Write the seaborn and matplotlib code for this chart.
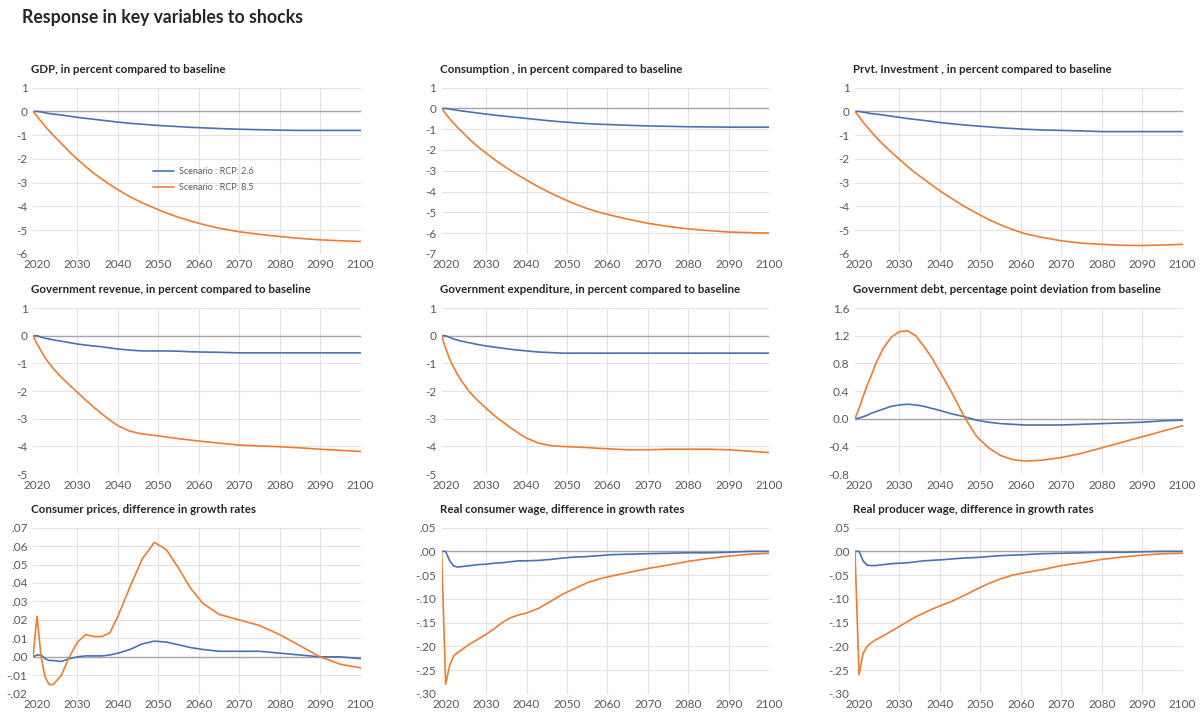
import numpy as np
import pandas as pd
import matplotlib
matplotlib.use("Agg")
import matplotlib.pyplot as plt
import seaborn as sns
from matplotlib.ticker import FuncFormatter

years = [2019, 2020, 2021, 2022, 2023, 2024, 2026, 2028, 2030, 2032, 2034, 2036, 2038, 2040,
         2043, 2046, 2049, 2052, 2055, 2058, 2061, 2065, 2070, 2075, 2080, 2085, 2090, 2095, 2100]

scenarios = ["Scenario : RCP: 2.6", "Scenario : RCP: 8.5"]

titles = [
    "GDP, in percent compared to baseline",
    "Consumption , in percent compared to baseline",
    "Prvt. Investment , in percent compared to baseline",
    "Government revenue, in percent compared to baseline",
    "Government expenditure, in percent compared to baseline",
    "Government debt, percentage point deviation from baseline",
    "Consumer prices, difference in growth rates",
    "Real consumer wage, difference in growth rates",
    "Real producer wage, difference in growth rates",
]

gdp_26 = [0, 0, -0.02, -0.06, -0.09, -0.11, -0.15, -0.2, -0.25, -0.29, -0.33, -0.37, -0.41, -0.45,
          -0.5, -0.54, -0.58, -0.61, -0.64, -0.67, -0.69, -0.72, -0.75, -0.77, -0.79, -0.8, -0.8, -0.8, -0.8]
gdp_85 = [0, -0.2, -0.42, -0.62, -0.82, -1.0, -1.35, -1.7, -2.02, -2.32, -2.6, -2.85, -3.08, -3.3,
          -3.6, -3.85, -4.07, -4.28, -4.46, -4.62, -4.76, -4.92, -5.07, -5.18, -5.27, -5.35, -5.41, -5.45, -5.48]

cons_26 = [0, 0, -0.03, -0.06, -0.09, -0.12, -0.17, -0.22, -0.27, -0.32, -0.36, -0.4, -0.44, -0.48,
           -0.54, -0.6, -0.65, -0.69, -0.73, -0.76, -0.78, -0.81, -0.84, -0.86, -0.88, -0.89, -0.9, -0.9, -0.9]
cons_85 = [0, -0.25, -0.5, -0.72, -0.93, -1.12, -1.5, -1.85, -2.15, -2.45, -2.72, -2.98, -3.22, -3.45,
           -3.78, -4.08, -4.35, -4.6, -4.82, -5.0, -5.15, -5.33, -5.53, -5.68, -5.8, -5.88, -5.95, -5.98, -6.0]

inv_26 = [0, 0, -0.03, -0.06, -0.09, -0.11, -0.15, -0.2, -0.25, -0.3, -0.34, -0.38, -0.42, -0.47,
          -0.52, -0.57, -0.61, -0.65, -0.69, -0.72, -0.75, -0.78, -0.8, -0.82, -0.85, -0.85, -0.85, -0.85, -0.85]
inv_85 = [0, -0.22, -0.45, -0.65, -0.85, -1.05, -1.4, -1.72, -2.02, -2.32, -2.6, -2.85, -3.1, -3.35,
          -3.68, -4.0, -4.28, -4.55, -4.78, -4.98, -5.15, -5.3, -5.45, -5.55, -5.6, -5.64, -5.65, -5.63, -5.6]

rev_26 = [0, 0, -0.05, -0.09, -0.12, -0.15, -0.2, -0.25, -0.3, -0.34, -0.37, -0.4, -0.44, -0.48,
          -0.52, -0.55, -0.55, -0.55, -0.56, -0.58, -0.59, -0.6, -0.62, -0.62, -0.62, -0.62, -0.62, -0.62, -0.62]
rev_85 = [0, -0.3, -0.55, -0.8, -1.0, -1.18, -1.5, -1.78, -2.05, -2.32, -2.58, -2.82, -3.05, -3.25,
          -3.45, -3.55, -3.6, -3.66, -3.72, -3.77, -3.82, -3.88, -3.95, -3.98, -4.01, -4.05, -4.1, -4.14, -4.18]

exp_26 = [0, 0, -0.06, -0.12, -0.16, -0.2, -0.26, -0.32, -0.37, -0.41, -0.45, -0.49, -0.52, -0.55,
          -0.59, -0.61, -0.63, -0.63, -0.63, -0.63, -0.63, -0.63, -0.63, -0.63, -0.63, -0.63, -0.63, -0.63, -0.63]
exp_85 = [0, -0.45, -0.85, -1.15, -1.42, -1.65, -2.05, -2.35, -2.62, -2.88, -3.1, -3.32, -3.52, -3.7,
          -3.88, -3.97, -4.0, -4.02, -4.04, -4.07, -4.09, -4.12, -4.12, -4.1, -4.1, -4.1, -4.12, -4.17, -4.22]

debt_26 = [0, 0.01, 0.03, 0.05, 0.08, 0.1, 0.14, 0.18, 0.2, 0.21, 0.2, 0.18, 0.15, 0.12,
           0.07, 0.03, -0.02, -0.05, -0.07, -0.08, -0.09, -0.09, -0.09, -0.08, -0.07, -0.06, -0.05, -0.03, -0.02]
debt_85 = [0, 0.15, 0.32, 0.48, 0.62, 0.78, 1.02, 1.18, 1.26, 1.27, 1.2, 1.05, 0.88, 0.68,
           0.37, 0.03, -0.25, -0.42, -0.53, -0.59, -0.61, -0.6, -0.56, -0.5, -0.42, -0.34, -0.26, -0.18, -0.1]

cpi_26 = [0, 0.001, 0.001, -0.001, -0.002, -0.002, -0.0025, -0.001, 0.0, 0.0005, 0.0005, 0.0005, 0.001, 0.002,
          0.004, 0.007, 0.0085, 0.008, 0.0065, 0.005, 0.004, 0.003, 0.003, 0.003, 0.002, 0.001, 0.0, 0.0, -0.001]
cpi_85 = [0, 0.022, 0.0, -0.011, -0.015, -0.015, -0.01, 0.0, 0.008, 0.012, 0.011, 0.011, 0.013, 0.022,
          0.038, 0.053, 0.062, 0.058, 0.048, 0.037, 0.029, 0.023, 0.02, 0.017, 0.012, 0.006, 0.0, -0.004, -0.006]

cwage_26 = [0, 0.0, -0.02, -0.031, -0.033, -0.032, -0.03, -0.028, -0.027, -0.025, -0.024, -0.022, -0.02, -0.02,
            -0.019, -0.017, -0.014, -0.012, -0.011, -0.009, -0.007, -0.006, -0.005, -0.004, -0.003, -0.003, -0.002, 0.0, 0.0]
cwage_85 = [0, -0.28, -0.24, -0.22, -0.213, -0.207, -0.195, -0.185, -0.175, -0.163, -0.15, -0.14, -0.134, -0.13,
            -0.12, -0.105, -0.09, -0.078, -0.066, -0.058, -0.052, -0.045, -0.036, -0.029, -0.021, -0.015, -0.01, -0.006, -0.004]

pwage_26 = [0, 0, -0.02, -0.029, -0.03, -0.03, -0.028, -0.026, -0.025, -0.024, -0.022, -0.02, -0.019, -0.018,
            -0.016, -0.014, -0.013, -0.011, -0.009, -0.008, -0.007, -0.005, -0.004, -0.003, -0.002, -0.002, -0.001, 0.0, 0.0]
pwage_85 = [0, -0.26, -0.215, -0.2, -0.193, -0.187, -0.178, -0.168, -0.158, -0.148, -0.138, -0.13, -0.122, -0.115,
            -0.105, -0.093, -0.08, -0.068, -0.058, -0.05, -0.045, -0.039, -0.03, -0.024, -0.017, -0.012, -0.008, -0.005, -0.004]

series = [(gdp_26, gdp_85), (cons_26, cons_85), (inv_26, inv_85),
          (rev_26, rev_85), (exp_26, exp_85), (debt_26, debt_85),
          (cpi_26, cpi_85), (cwage_26, cwage_85), (pwage_26, pwage_85)]

# y axis settings per panel: (min, max, step, format)
yaxes = [(-6, 1, 1, "int"), (-7, 1, 1, "int"), (-6, 1, 1, "int"),
         (-5, 1, 1, "int"), (-5, 1, 1, "int"), (-0.8, 1.6, 0.4, "one"),
         (-0.02, 0.07, 0.01, "dot"), (-0.30, 0.05, 0.05, "dot"), (-0.30, 0.05, 0.05, "dot")]


def fmt_int(v, pos):
    return f"{v:.0f}"


def fmt_one(v, pos):
    return f"{v:.1f}"


def fmt_dot(v, pos):
    s = f"{v:.2f}"
    s = s.replace("0.", ".")
    if s == "-.00":
        s = ".00"
    return s


formatters = {"int": fmt_int, "one": fmt_one, "dot": fmt_dot}

sns.set_style("white")
plt.rcParams["font.family"] = ["Lato", "DejaVu Sans"]

palette = {scenarios[0]: "#4a72b0", scenarios[1]: "#ed7d31"}
tick_col = "#595959"

fig = plt.figure(figsize=(12, 7.13), dpi=100)
fig.text(0.018, 0.975, "Response in key variables to shocks", fontsize=12.7,
         fontweight="bold", ha="left", va="center")

lefts = [0.0275, 0.368, 0.7125]
bottoms = [0.644, 0.335, 0.027]
w, h = 0.273, 0.233

for i, title in enumerate(titles):
    r, c = divmod(i, 3)
    ax = fig.add_axes([lefts[c], bottoms[r], w, h])
    s26, s85 = series[i]
    df = pd.DataFrame({
        "year": years + years,
        "value": s26 + s85,
        "scenario": [scenarios[0]] * len(years) + [scenarios[1]] * len(years),
    })
    ymin, ymax, step, kind = yaxes[i]
    ax.axhline(0, color="#a6a6a6", lw=1.0, zorder=1)
    sns.lineplot(data=df, x="year", y="value", hue="scenario", palette=palette,
                 linewidth=1.2, ax=ax, legend=(i == 0), zorder=3)
    ax.set_xlim(2019, 2100)
    ax.set_ylim(ymin, ymax)
    ax.set_xticks(range(2020, 2101, 10))
    ax.set_yticks(np.arange(ymin, ymax + step / 2, step))
    ax.yaxis.set_major_formatter(FuncFormatter(formatters[kind]))
    ax.grid(True, color="#e3e3e3", lw=0.8, zorder=0)
    ax.get_xgridlines()[0].set_visible(False)
    ax.set_axisbelow(True)
    for sp in ax.spines.values():
        sp.set_visible(False)
    ax.tick_params(axis="both", labelsize=8.5, colors=tick_col, length=0, pad=4)
    ax.set_xlabel("")
    ax.set_ylabel("")
    ax.text(-0.005, 1.11, title, transform=ax.transAxes, fontsize=8.3,
            fontweight="bold", ha="left", va="center")
    if i == 0:
        leg = ax.legend(loc="upper left", bbox_to_anchor=(0.34, 0.57), frameon=False,
                        fontsize=6.5, handlelength=2.4, handletextpad=0.5, labelspacing=0.8)
        for t in leg.get_texts():
            t.set_color(tick_col)

fig.savefig("out.png", dpi=100)
